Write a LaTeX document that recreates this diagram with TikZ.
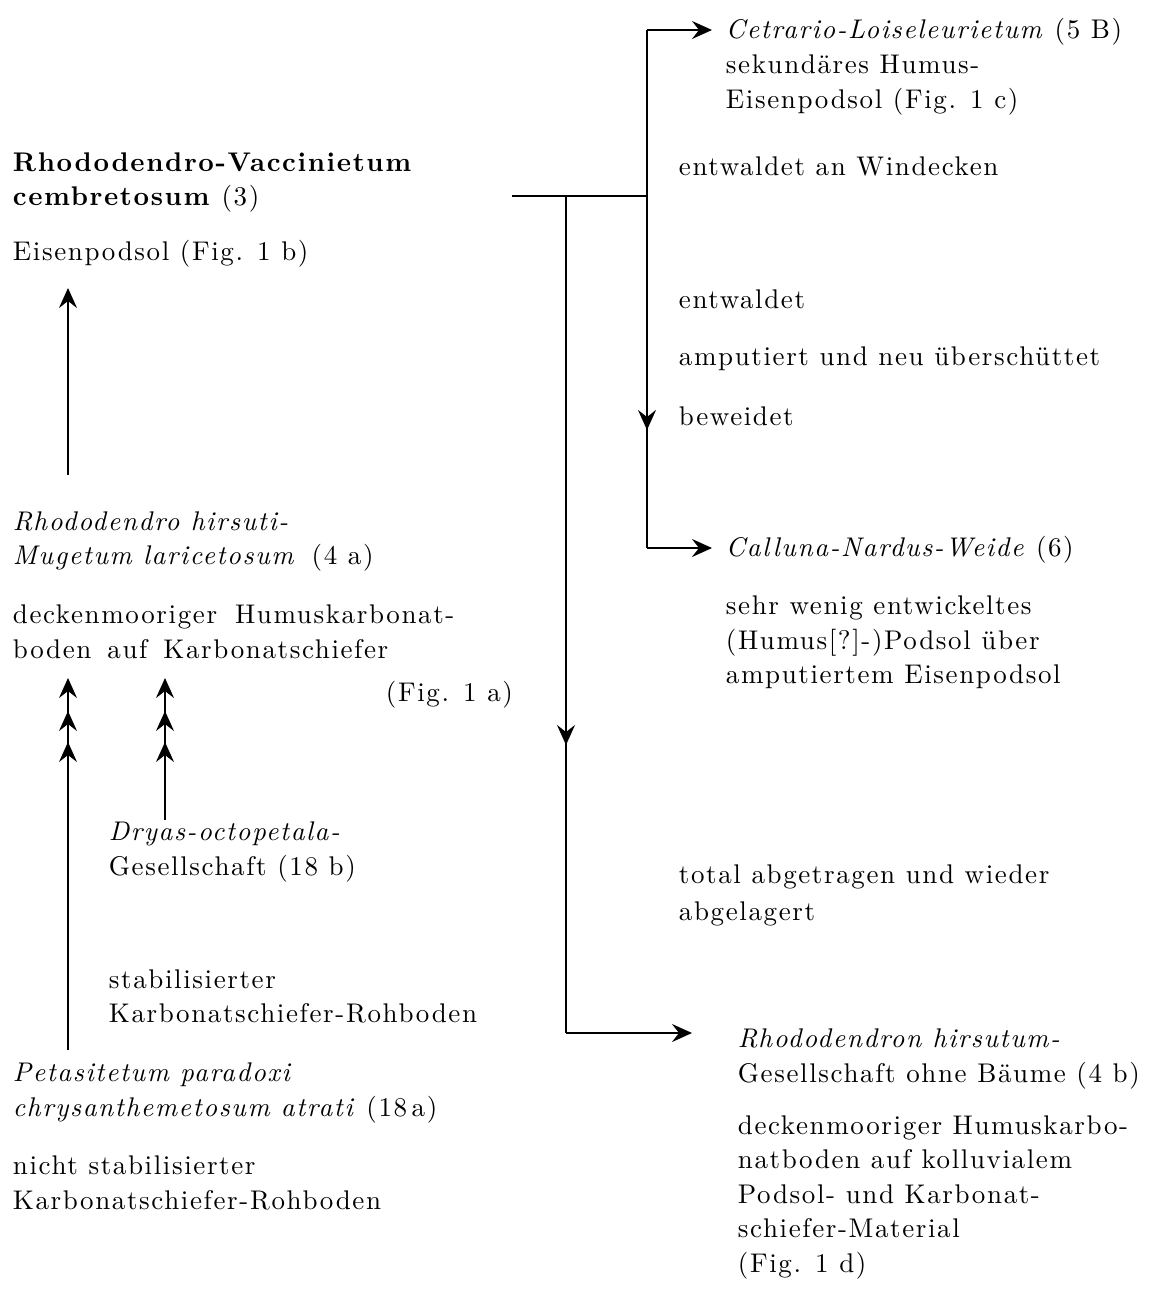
\documentclass[tikz,border=0pt]{standalone}
\usepackage{fontspec}
\setmainfont{lmroman10}[Extension=.otf, UprightFont=*-regular, BoldFont=*-bold, ItalicFont=*-italic, BoldItalicFont=*-bolditalic, LetterSpace=6]
\usetikzlibrary{arrows.meta,decorations.markings}
\newcommand\myfs{\fontsize{13.5}{17.5}\selectfont}
\newcommand\myhead{\arrow{Stealth[length=10pt,width=9pt,inset=3.5pt]}}
\begin{document}
\begin{tikzpicture}[x=0.5pt,y=-0.5pt,line width=0.9pt,
  txt/.style={anchor=base west,inner sep=0pt,font=\myfs},
  arr/.style={-{Stealth[length=10pt,width=9pt,inset=3.5pt]}}]
\path[use as bounding box] (0,0) rectangle (1153,1296);
\fill[white] (0,0) rectangle (1153,1296);
% left column
\node[txt] (a1) at (12,171) {\textbf{Rhododendro-Vaccinietum}};
\node[txt] (a2) at (12,205) {\textbf{cembretosum} (3)};
\node[txt] (a3) at (12,260) {Eisenpodsol (Fig. 1 b)};
\node[txt] (b1) at (12,530) {\textit{Rhododendro hirsuti-}};
\node[txt] (b2) at (12,564) {\textit{Mugetum laricetosum}\hspace{8pt}(4 a)};
\node[txt] (b3) at (12,623) {deckenmooriger\hspace{9pt}Humuskarbonat-};
\node[txt] (b4) at (12,658) {boden\hspace{8pt}auf\hspace{8pt}Karbonatschiefer};
\node[txt] (b5) at (385,701) {(Fig. 1 a)};
\node[txt] (d1) at (108,840) {\textit{Dryas-octopetala-}};
\node[txt] (d2) at (108,875) {Gesellschaft (18 b)};
\node[txt] (d3) at (108,988) {stabilisierter};
\node[txt] (d4) at (108,1022) {Karbonatschiefer-Rohboden};
\node[txt] (p1) at (12,1081) {\textit{Petasitetum paradoxi}};
\node[txt] (p2) at (12,1116) {\textit{chrysanthemetosum atrati} (18\,a)};
\node[txt] (p3) at (12,1174) {nicht stabilisierter};
\node[txt] (p4) at (12,1209) {Karbonatschiefer-Rohboden};
% right column
\node[txt] (c1) at (725,38) {\textit{Cetrario-Loiseleurietum} (5 B)};
\node[txt] (c2) at (725,73) {sekundäres Humus-};
\node[txt] (c3) at (725,108) {Eisenpodsol (Fig. 1 c)};
\node[txt] (e1) at (678,175) {entwaldet an Windecken};
\node[txt] (e2) at (678,308) {entwaldet};
\node[txt] (e3) at (678,365) {amputiert und neu überschüttet};
\node[txt] (e4) at (678,425) {beweidet};
\node[txt] (n1) at (725,556) {\textit{Calluna-Nardus-Weide} (6)};
\node[txt] (n2) at (725,614) {sehr wenig entwickeltes};
\node[txt] (n3) at (725,649) {(Humus[?]-)Podsol über};
\node[txt] (n4) at (725,683) {amputiertem Eisenpodsol};
\node[txt] (t1) at (678,883) {total abgetragen und wieder};
\node[txt] (t2) at (678,920) {abgelagert};
\node[txt] (r1) at (737,1047) {\textit{Rhododendron hirsutum-}};
\node[txt] (r2) at (737,1082) {Gesellschaft ohne Bäume (4 b)};
\node[txt] (r3) at (737,1134) {deckenmooriger Humuskarbo-};
\node[txt] (r4) at (737,1168) {natboden auf kolluvialem};
\node[txt] (r5) at (737,1203) {Podsol- und Karbonat-};
\node[txt] (r6) at (737,1237) {schiefer-Material};
\node[txt] (r7) at (737,1272) {(Fig. 1 d)};
% junction coordinates
\coordinate (hL) at (512,196);
\coordinate (hR) at (647,196);
\coordinate (vTop) at (647,30);
\coordinate (vBot) at (647,548);
\coordinate (cTip) at (712,30);
\coordinate (nTip) at (712,548);
\coordinate (mTop) at (566,196);
\coordinate (mBot) at (566,1033);
\coordinate (rTip) at (692,1033);
\coordinate (uS) at (68,475);
\coordinate (uE) at (68,288);
\coordinate (tLs) at (68,1050);
\coordinate (tLe) at (68,678);
\coordinate (tRs) at (165,820);
\coordinate (tRe) at (165,678);
% connectors
\draw (hL) -- (hR);
\draw[postaction={decorate},decoration={markings,mark=at position 200pt with {\myhead}}] (vTop) -- (vBot);
\draw[arr] (vTop) -- (cTip);
\draw[arr] (vBot) -- (nTip);
\draw[postaction={decorate},decoration={markings,mark=at position 274.5pt with {\myhead}}] (mTop) -- (mBot);
\draw[arr] (mBot) -- (rTip);
\draw[arr] (uS) -- (uE);
\draw[arr,postaction={decorate},decoration={markings,mark=at position 154pt with {\myhead},mark=at position 169.5pt with {\myhead}}] (tLs) -- (tLe);
\draw[arr,postaction={decorate},decoration={markings,mark=at position 39pt with {\myhead},mark=at position 54.5pt with {\myhead}}] (tRs) -- (tRe);
\end{tikzpicture}
\end{document}
